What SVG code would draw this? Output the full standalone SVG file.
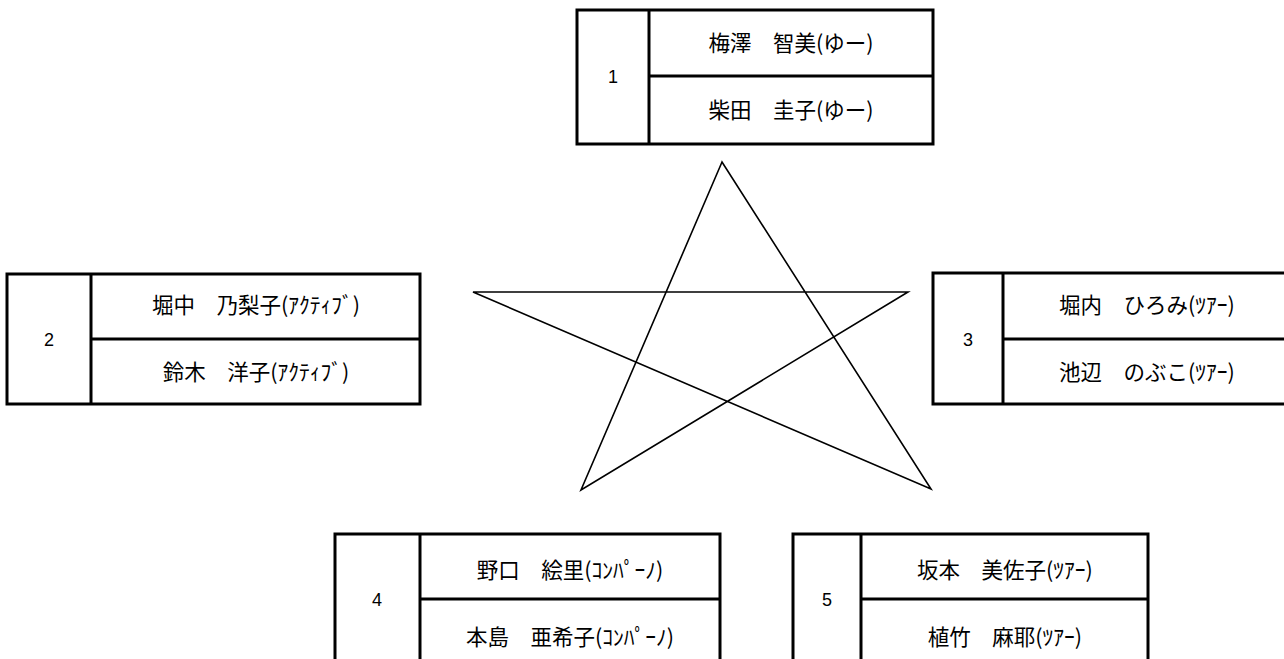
<svg xmlns="http://www.w3.org/2000/svg" width="1284" height="659" viewBox="0 0 1284 659">
<style>
.box{fill:#fff;stroke:#000;stroke-width:3}
.ln{stroke:#000;stroke-width:3}
.nm{font-family:"Noto Sans CJK JP","Noto Sans",sans-serif;font-size:21.5px;fill:#000;text-anchor:middle}
.num{font-family:"Liberation Sans",Arial,sans-serif;font-size:18px;fill:#000;text-anchor:middle}
.star{fill:none;stroke:#000;stroke-width:1.6;stroke-linejoin:miter}
</style>
<rect width="1284" height="659" fill="#fff"/>
<g id="connectors">
<path class="star" d="M722,162 L581,490 L908,292 L473,292 L931,489 Z"/>
</g>
<g id="node1">
<rect class="box" x="577" y="10" width="356" height="134"/>
<line class="ln" x1="649" y1="10" x2="649" y2="144"/>
<line class="ln" x1="649" y1="76" x2="933" y2="76"/>
<text class="num" x="613" y="83">1</text>
<text class="nm" x="791" y="51">梅澤　智美(ゆー)</text>
<text class="nm" x="791" y="118">柴田　圭子(ゆー)</text>
</g>
<g id="node2">
<rect class="box" x="7" y="274" width="413" height="130"/>
<line class="ln" x1="91" y1="274" x2="91" y2="404"/>
<line class="ln" x1="91" y1="339" x2="420" y2="339"/>
<text class="num" x="49" y="346">2</text>
<text class="nm" x="256" y="313">堀中　乃梨子(ｱｸﾃｨﾌﾞ)</text>
<text class="nm" x="256" y="380">鈴木　洋子(ｱｸﾃｨﾌﾞ)</text>
</g>
<g id="node3">
<rect class="box" x="933" y="273" width="360" height="131"/>
<line class="ln" x1="1003" y1="273" x2="1003" y2="404"/>
<line class="ln" x1="1003" y1="339" x2="1293" y2="339"/>
<text class="num" x="968" y="346">3</text>
<text class="nm" x="1147" y="313">堀内　ひろみ(ﾂｱｰ)</text>
<text class="nm" x="1147" y="380">池辺　のぶこ(ﾂｱｰ)</text>
</g>
<g id="node4">
<rect class="box" x="335" y="534" width="385" height="134"/>
<line class="ln" x1="420" y1="534" x2="420" y2="668"/>
<line class="ln" x1="420" y1="599" x2="720" y2="599"/>
<text class="num" x="377" y="606">4</text>
<text class="nm" x="570" y="578">野口　絵里(ｺﾝﾊﾟｰﾉ)</text>
<text class="nm" x="570" y="645">本島　亜希子(ｺﾝﾊﾟｰﾉ)</text>
</g>
<g id="node5">
<rect class="box" x="793" y="534" width="355" height="134"/>
<line class="ln" x1="861" y1="534" x2="861" y2="668"/>
<line class="ln" x1="861" y1="599" x2="1148" y2="599"/>
<text class="num" x="827" y="606">5</text>
<text class="nm" x="1005" y="578">坂本　美佐子(ﾂｱｰ)</text>
<text class="nm" x="1005" y="645">植竹　麻耶(ﾂｱｰ)</text>
</g>
</svg>
